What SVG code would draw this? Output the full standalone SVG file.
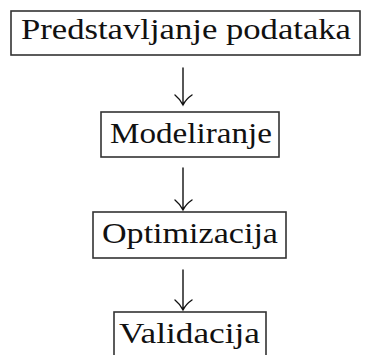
<svg xmlns="http://www.w3.org/2000/svg" width="365" height="355" viewBox="0 0 365 355">
<style>
.box{fill:#fff;stroke:#333;stroke-width:1.6}
.t{font-family:"Liberation Serif","Times New Roman",serif;font-size:30px;fill:#111}
.c{fill:none;stroke:#111;stroke-width:1.4;stroke-linecap:round}
</style>
<rect width="365" height="355" fill="#fff"/>
<g id="n1"><rect class="box" x="11" y="11" width="349" height="44"/><text class="t" x="21" y="39" textLength="330" lengthAdjust="spacingAndGlyphs">Predstavljanje podataka</text></g>
<g id="n2"><rect class="box" x="101" y="112" width="178" height="45"/><text class="t" x="110" y="143" textLength="162" lengthAdjust="spacingAndGlyphs">Modeliranje</text></g>
<g id="n3"><rect class="box" x="93" y="212" width="193" height="46"/><text class="t" x="102" y="243" textLength="176" lengthAdjust="spacingAndGlyphs">Optimizacija</text></g>
<g id="n4"><rect class="box" x="114" y="312" width="152" height="48"/><text class="t" x="119" y="343" textLength="141" lengthAdjust="spacingAndGlyphs">Validacija</text></g>
<g id="connectors">
<path class="c" d="M183,68 V105 M175,95 Q180,99 183,105 Q186,99 192,95"/>
<path class="c" d="M183,168 V210 M175,200 Q180,204 183,210 Q186,204 192,200"/>
<path class="c" d="M183,270 V310 M175,300 Q180,304 183,310 Q186,304 192,300"/>
</g>
</svg>
